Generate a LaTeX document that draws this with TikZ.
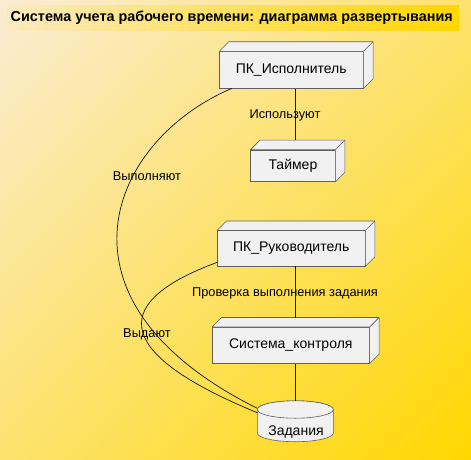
\documentclass[tikz,border=0pt]{standalone}
\usepackage{fontspec}
\setmainfont{Liberation Sans}
\usetikzlibrary{calc,shadings}
\definecolor{bgA}{RGB}{251,236,212}
\definecolor{bgB}{RGB}{255,215,0}
\definecolor{bgM}{RGB}{253,226,110}
\definecolor{nodefill}{RGB}{241,241,241}
\definecolor{nodeline}{RGB}{95,95,95}
\definecolor{wire}{RGB}{20,20,20}
\newcommand\threeDfaces[2]{%
  \filldraw[face] (#1.north west) -- ++(#2,-#2) -- ($(#1.north east)+(#2,-#2)$) -- ($(#1.south east)+(#2,-#2)$) -- (#1.south east) -- (#1.north east) -- cycle;
  \draw[face] (#1.north east) -- ++(#2,-#2);}
\begin{document}
\begin{tikzpicture}[x=1pt,y=-1pt,
  face/.style={draw=nodeline, fill=nodefill, line width=0.6pt, line join=round},
  box/.style={draw=nodeline, fill=nodefill, line width=0.6pt, inner sep=0pt, font=\fontsize{14}{16}\selectfont},
  wirestyle/.style={draw=wire, line width=0.7pt},
  lbl/.style={inner sep=0pt, font=\fontsize{12.8}{14}\selectfont},
  ]
\useasboundingbox (0,0) rectangle (471,459);
\shade[upper left=bgA, upper right=bgM, lower left=bgM, lower right=bgB] (0,0) rectangle (471,459);
% title
\shade[left color=bgA!80!bgM, right color=bgB] (7,5) rectangle (459,30);
\node[anchor=west, inner sep=0pt, font=\bfseries\fontsize{14.4}{16}\selectfont] (title) at (10.5,17.5) {Система учета рабочего времени: диаграмма развертывания};
\coordinate (spine) at (295,0);
% nodes
\node[box, minimum width=143.7, minimum height=36.6] (pki) at (291.2,70) {ПК\_Исполнитель};
\threeDfaces{pki}{9.7}
\node[box, minimum width=84.3, minimum height=31.7] (timer) at (292.9,165.8) {Таймер};
\threeDfaces{timer}{9.5}
\node[box, minimum width=147.7, minimum height=35.3] (pkr) at (291.2,248.4) {ПК\_Руководитель};
\threeDfaces{pkr}{9.5}
\node[box, minimum width=157, minimum height=36] (sk) at (290.8,345.3) {Система\_контроля};
\threeDfaces{sk}{9.5}
% database cylinder
\filldraw[face] (257.3,409.5) -- (257.3,433) arc[start angle=180, end angle=0, x radius=38, y radius=8.7] -- (333.3,409.5) arc[start angle=0, end angle=-180, x radius=38, y radius=8.7] -- cycle;
\draw[face] (295.3,409.5) ellipse[x radius=38, y radius=8.7];
\node[inner sep=0pt, font=\fontsize{14}{16}\selectfont] (db) at (296,431.5) {Задания};
\coordinate (dbA) at (257.3,408.3);
\coordinate (dbB) at (257.3,412.7);
% connectors
\draw[wirestyle] (pki.south -| spine) -- ($(timer.north -| spine)+(0,-9.5)$);
\draw[wirestyle] (pkr.south -| spine) -- ($(sk.north -| spine)+(0,-9.5)$);
\draw[wirestyle] (sk.south -| spine) -- (295,400.8);
\coordinate (pkiA) at (232,88.3);
\coordinate (pkrA) at (217.3,262.3);
\draw[wirestyle] (pkiA) .. controls (110,140) and (40,300) .. (dbA);
\draw[wirestyle] (pkrA) .. controls (115,300) and (105,350) .. (dbB);
% labels
\node[lbl] (l1) at (285,115) {Используют};
\node[lbl] (l2) at (285,293.5) {Проверка выполнения задания};
\node[lbl] (l3) at (147,176) {Выполняют};
\node[lbl] (l4) at (147,334) {Выдают};
\end{tikzpicture}
\end{document}
